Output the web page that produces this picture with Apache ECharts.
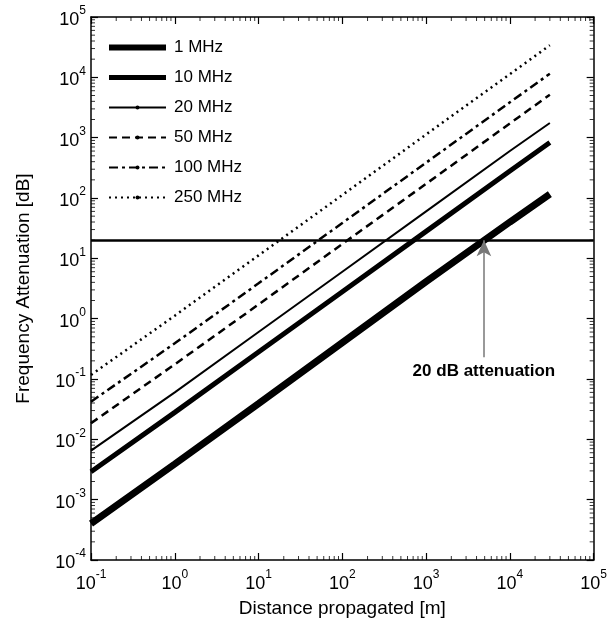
<!DOCTYPE html>
<html>
<head>
<meta charset="utf-8">
<script src="https://cdn.jsdelivr.net/npm/echarts@6/dist/echarts.min.js"></script>
<style>
  html, body { margin: 0; padding: 0; background: #fff; }
  #chart { width: 610px; height: 628px; }
</style>
</head>
<body>
<div id="chart"></div>
<script>
// distance [m] and attenuation [dB]
const distances = [0.1, 1, 10, 100, 1000, 10000, 30000];
const att1MHz   = [0.0004, 0.0039, 0.039, 0.4, 4.1, 40, 116];
const att10MHz  = [0.0029, 0.028, 0.28, 2.8, 28, 280, 830];
const att20MHz  = [0.0065, 0.06, 0.6, 6, 60, 600, 1750];
const att50MHz  = [0.0185, 0.175, 1.72, 17.3, 172, 1720, 5150];
const att100MHz = [0.042, 0.39, 3.85, 38.5, 385, 3850, 11500];
const att250MHz = [0.117, 1.12, 11.2, 112, 1130, 11300, 34000];
const seriesNames = ['1 MHz', '10 MHz', '20 MHz', '50 MHz', '100 MHz', '250 MHz'];

const limitLevel = 20;          // 20 dB attenuation line
const arrowDistance = 4900;     // where the arrow points
const arrowFrom = 0.23;
const arrowText = '20 dB attenuation';

const xMin = 0.1, xMax = 1e5, yMin = 1e-4, yMax = 1e5;
const minorSteps = [2, 3, 4, 5, 6, 7, 8, 9];

const FONT = '"Liberation Sans", Arial, sans-serif';

function pairs(ys) {
  return distances.map(function (d, i) { return [d, ys[i]]; });
}

// minor ticks (2..9 per decade)
function minorTicks(lo, hi) {
  const out = [];
  for (let e = Math.round(Math.log10(lo)); e < Math.round(Math.log10(hi)); e++) {
    minorSteps.forEach(function (m) { out.push(m * Math.pow(10, e)); });
  }
  return out;
}
const xMinor = minorTicks(xMin, xMax);
const yMinor = minorTicks(yMin, yMax);

function powLabel(value) {
  const e = Math.round(Math.log10(value));
  return '{b|10}{s|' + e + '}';
}
const labelRich = {
  b: { fontSize: 18, fontFamily: FONT, color: '#000', padding: [6, 0, 0, 0], verticalAlign: 'bottom' },
  s: { fontSize: 12, fontFamily: FONT, color: '#000', verticalAlign: 'top' }
};

const axisLineStyle = { lineStyle: { color: '#000', width: 1.5 } };
const majorTick = { inside: true, length: 7, lineStyle: { color: '#000', width: 1.2 } };

function logAxis(min, max, extra) {
  return Object.assign({
    type: 'log',
    logBase: 10,
    min: min,
    max: max,
    axisLine: axisLineStyle,
    axisTick: majorTick,
    splitLine: { show: false }
  }, extra);
}

const legendWidth = { '1 MHz': 6, '10 MHz': 5, '20 MHz': 2, '50 MHz': 2, '100 MHz': 2, '250 MHz': 2 };
const legendData = seriesNames.map(function (n) {
  return { name: n, lineStyle: { width: legendWidth[n] } };
});

// small rect markers sitting on the frame act as minor ticks
function minorTickSeries(name, points, size, offset) {
  return {
    name: name, type: 'scatter', silent: true, clip: false, z: 5,
    symbol: 'rect', symbolSize: size, symbolOffset: offset,
    itemStyle: { color: '#000' },
    data: points
  };
}

const chart = echarts.init(document.getElementById('chart'));

const option = {
  animation: false,
  backgroundColor: '#fff',
  grid: { left: 91, right: 10, top: 17, bottom: 68 },
  legend: {
    data: legendData,
    orient: 'vertical',
    left: 101,
    top: 34,
    itemWidth: 57,
    itemHeight: 5,
    itemGap: 13,
    textStyle: { fontSize: 17, fontFamily: FONT, color: '#000', padding: [0, 0, 0, 3] }
  },
  xAxis: [
    logAxis(xMin, xMax, {
      position: 'bottom',
      axisLabel: { margin: 9, formatter: powLabel, rich: labelRich },
      name: 'Distance propagated [m]',
      nameLocation: 'middle',
      nameGap: 39,
      nameTextStyle: { fontSize: 19, fontFamily: FONT, color: '#000' }
    }),
    logAxis(xMin, xMax, { position: 'top', axisLabel: { show: false } })
  ],
  yAxis: [
    logAxis(yMin, yMax, {
      position: 'left',
      axisLabel: { margin: 5, formatter: powLabel, rich: labelRich },
      name: 'Frequency Attenuation [dB]',
      nameLocation: 'middle',
      nameGap: 58,
      nameTextStyle: { fontSize: 19, fontFamily: FONT, color: '#000' }
    }),
    logAxis(yMin, yMax, { position: 'right', axisLabel: { show: false } })
  ],
  series: [
    {
      name: '1 MHz', type: 'line', symbol: 'none', data: pairs(att1MHz),
      lineStyle: { color: '#000', width: 7 }, itemStyle: { color: '#000' },
      markLine: {
        silent: true,
        symbol: ['none', 'arrow'],
        symbolSize: [11, 16],
        data: [
          [
            { xAxis: xMin, yAxis: limitLevel, symbol: 'none', label: { show: false },
              lineStyle: { color: '#000', width: 2.5, type: 'solid' } },
            { xAxis: xMax, yAxis: limitLevel, symbol: 'none' }
          ],
          [
            { coord: [arrowDistance, arrowFrom], symbol: 'none',
              lineStyle: { color: '#777', width: 1.5, type: 'solid' },
              label: { show: true, position: 'start', distance: 6, formatter: arrowText,
                fontSize: 17, fontWeight: 'bold', fontFamily: FONT, color: '#000' } },
            { coord: [arrowDistance, limitLevel], symbol: 'arrow' }
          ]
        ]
      }
    },
    {
      name: '10 MHz', type: 'line', symbol: 'none', data: pairs(att10MHz),
      lineStyle: { color: '#000', width: 5 }, itemStyle: { color: '#000' }
    },
    {
      name: '20 MHz', type: 'line', symbol: 'none', data: pairs(att20MHz),
      lineStyle: { color: '#000', width: 2 }, itemStyle: { color: '#000' }
    },
    {
      name: '50 MHz', type: 'line', symbol: 'circle', symbolSize: 4, showSymbol: false, data: pairs(att50MHz),
      lineStyle: { color: '#000', width: 2.5, type: [8, 5] }, itemStyle: { color: '#000' }
    },
    {
      name: '100 MHz', type: 'line', symbol: 'circle', symbolSize: 4, showSymbol: false, data: pairs(att100MHz),
      lineStyle: { color: '#000', width: 2.5, type: [9, 4, 3, 4] }, itemStyle: { color: '#000' }
    },
    {
      name: '250 MHz', type: 'line', symbol: 'circle', symbolSize: 4, showSymbol: false, data: pairs(att250MHz),
      lineStyle: { color: '#000', width: 2.5, type: [2, 4] }, itemStyle: { color: '#000' }
    },
    minorTickSeries('minor-bottom', xMinor.map(function (v) { return [v, yMin]; }), [1, 4], [0, -2]),
    minorTickSeries('minor-top', xMinor.map(function (v) { return [v, yMax]; }), [1, 4], [0, 2]),
    minorTickSeries('minor-left', yMinor.map(function (v) { return [xMin, v]; }), [4, 1], [2, 0]),
    minorTickSeries('minor-right', yMinor.map(function (v) { return [xMax, v]; }), [4, 1], [-2, 0])
  ]
};

chart.setOption(option);
window.addEventListener('resize', function () { chart.resize(); });
</script>
</body>
</html>
